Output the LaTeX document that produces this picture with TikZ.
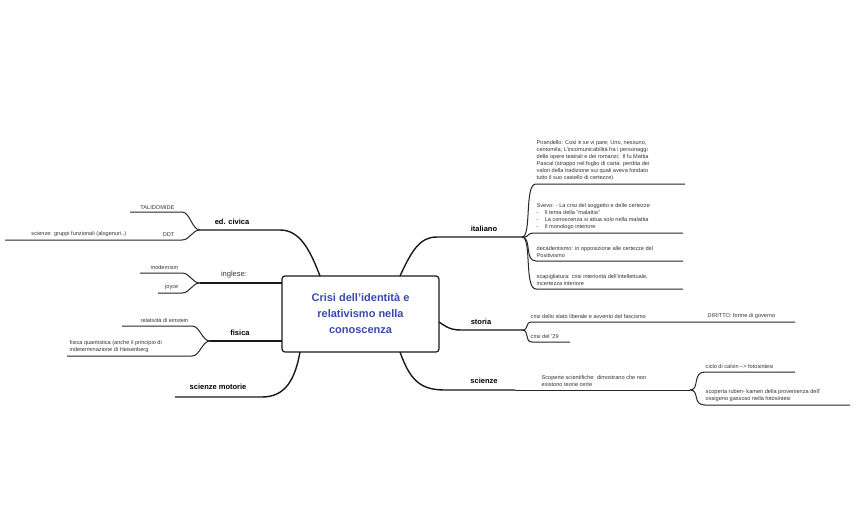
\documentclass[tikz,border=0pt]{standalone}
\usepackage{fontspec}
\setmainfont{Liberation Sans}
\definecolor{ttl}{HTML}{3949AB}
\definecolor{txt}{HTML}{333333}
\begin{document}
\begin{tikzpicture}[x=1pt,y=-1pt,
  ln/.style={draw=black!85,line width=1pt},
  thk/.style={draw=black!90,line width=1.4pt},
  sm/.style={font=\fontsize{5.6}{7}\selectfont,text=txt,anchor=south west,inner sep=1.5pt,align=left},
  smr/.style={sm,anchor=south east},
  main/.style={font=\bfseries\fontsize{7.5}{9}\selectfont,inner sep=1pt}]
\useasboundingbox (0,0) rectangle (856,530);
\node[draw=black!90,line width=1.2pt,rounded corners=3pt,minimum width=157pt,minimum height=76pt,
  align=center,text=ttl,font=\bfseries\fontsize{11}{16}\selectfont] (c) at (360.5,314) {Crisi dell'identità e\\relativismo nella\\conoscenza};
% italiano
\coordinate (i0) at (437,237); \coordinate (i1) at (522,237);
\draw[thk] (400,276) .. controls (412,250) and (420,237) .. (i0) -- (i1);
\node[main,anchor=south] (it) at (484,233) {italiano};
\foreach \y/\e in {184/685,233/683,261/683,289/683}{
  \draw[ln] (i1) .. controls (532,237) and (524,\y) .. (536,\y) -- (\e,\y);}
\node[sm] (p1) at (535,182) {Pirandello: Così è se vi pare; Uno, nessuno,\\centomila; L'incomunicabilità fra i personaggi\\delle opere teatrali e dei romanzi;\ \ Il fu Mattia\\Pascal (strappo nel foglio di carta: perdita dei\\valori della tradizione sui quali aveva fondato\\tutto il suo castello di certezze)};
\node[sm] (p2) at (535,231) {Svevo: - La crisi del soggetto e delle certezze\\-\ \ \ \ Il tema della "malattia"\\-\ \ \ \ La conoscenza si attua solo nella malattia\\-\ \ \ \ Il monologo interiore};
\node[sm] (p3) at (535,259) {decadentismo: in opposizione alle certezze del\\Positivismo};
\node[sm] (p4) at (535,287) {scapigliatura: crisi interiorità dell'intellettuale,\\incertezza interiore};
% storia
\coordinate (s1) at (522,330);
\draw[thk] (439,322) .. controls (450,330) and (455,330) .. (462,330) -- (s1);
\node[main,anchor=south] (st) at (481,326) {storia};
\draw[ln] (s1) .. controls (530,330) and (524,322) .. (532,322) -- (795,322);
\draw[ln] (s1) .. controls (530,330) and (524,342) .. (532,342) -- (570,342);
\node[sm] (s2) at (529,320) {crisi dello stato liberale e avvento del fascismo};
\node[sm] (s3) at (706,320) {DIRITTO: forme di governo};
\node[sm] (s4) at (529,340) {crisi del '29};
% scienze
\coordinate (sc1) at (690,390);
\draw[thk] (400,352) .. controls (410,380) and (420,390) .. (445,390) -- (515,390);
\draw[ln] (515,390) -- (sc1);
\node[main,anchor=south] (sc) at (484,385) {scienze};
\node[sm] (sc2) at (540,388) {Scoperte scientifiche: dimostrano che non\\esistono teorie certe};
\draw[ln] (sc1) .. controls (700,390) and (692,372) .. (705,372) -- (795,372);
\draw[ln] (sc1) .. controls (700,390) and (692,405) .. (705,405) -- (850,405);
\node[sm] (sc3) at (704,370) {ciclo di calvin --> fotosintesi};
\node[sm] (sc4) at (704,403) {scoperta ruben- kamen della provenienza dell'\\ossigeno gassoso nella fotosintesi};
% ed civica
\coordinate (e1) at (200,230);
\draw[thk] (320,276) .. controls (310,250) and (300,230) .. (280,230) -- (e1);
\node[main,anchor=south] (ec) at (232,226) {ed. civica};
\draw[ln] (e1) .. controls (192,230) and (190,212) .. (182,212) -- (130,212);
\draw[ln] (e1) .. controls (192,230) and (190,240) .. (182,240) -- (5,240);
\node[smr] (e2) at (176,211) {TALIDOMIDE};
\node[smr] (e3) at (176,238) {DDT};
\node[smr] (e4) at (128,238) {scienze: gruppi funzionali (alogenuri..)};
% inglese
\coordinate (g1) at (200,283);
\draw[thk] (282,283) -- (g1);
\node[font=\fontsize{7.5}{9}\selectfont,text=txt,anchor=south,inner sep=1pt] (ig) at (234,279) {inglese:};
\draw[ln] (g1) .. controls (192,283) and (190,273) .. (182,273) -- (140,273);
\draw[ln] (g1) .. controls (192,283) and (190,293) .. (182,293) -- (158,293);
\node[smr] (g2) at (180,271) {modernism};
\node[smr] (g3) at (180,291) {joyce};
% fisica
\coordinate (f1) at (210,341);
\draw[thk] (282,341) -- (f1);
\node[main,anchor=south] (fi) at (240,337) {fisica};
\draw[ln] (f1) .. controls (202,341) and (200,326) .. (192,326) -- (122,326);
\draw[ln] (f1) .. controls (202,341) and (200,356) .. (192,356) -- (67,356);
\node[smr] (f2) at (190,324) {relatività di einstein};
\node[sm] (f3) at (68,354) {fisica quantistica (anche il principio di\\indeterminazione di Heisenberg};
% scienze motorie
\draw[thk] (300,352) .. controls (295,380) and (285,397) .. (262,397) -- (175,397);
\node[main,anchor=south] (sm) at (218,391) {scienze motorie};
\end{tikzpicture}
\end{document}
